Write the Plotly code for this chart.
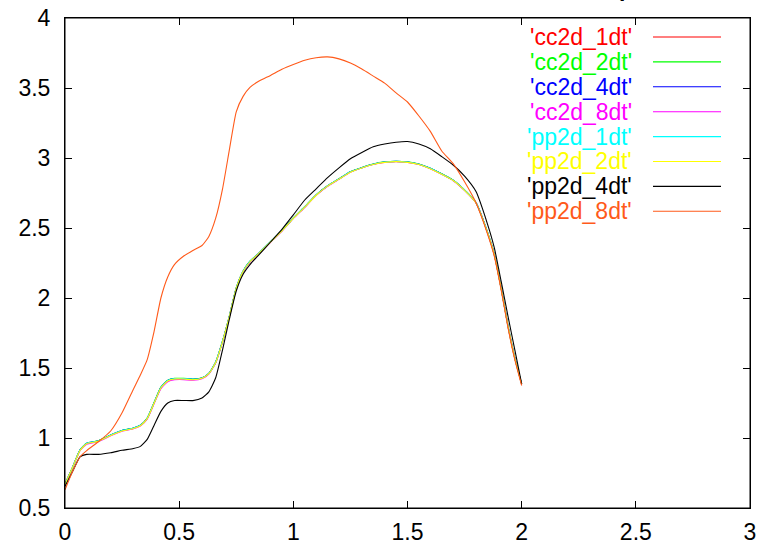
import plotly.graph_objects as go

# ---- data ----
x = [0, 0.033, 0.066, 0.095, 0.146, 0.2, 0.25, 0.3, 0.33, 0.36, 0.39, 0.42, 0.45, 0.48,
     0.52, 0.56, 0.6, 0.63, 0.66, 0.69, 0.72, 0.75, 0.78, 0.81, 0.85, 0.9, 0.95, 1.0,
     1.05, 1.1, 1.15, 1.2, 1.25, 1.3, 1.35, 1.4, 1.45, 1.5, 1.55, 1.6, 1.65, 1.7, 1.75,
     1.8, 1.85, 1.88, 1.91, 1.94, 1.97, 2.0]

cc2d_1dt = [0.67, 0.79, 0.914, 0.961, 0.978, 1.02, 1.052, 1.07, 1.09, 1.14, 1.25, 1.36, 1.41, 1.423,
            1.423, 1.418, 1.428, 1.46, 1.54, 1.69, 1.87, 2.07, 2.19, 2.26, 2.32, 2.40, 2.48, 2.57,
            2.65, 2.735, 2.80, 2.85, 2.90, 2.93, 2.955, 2.97, 2.975, 2.97, 2.955, 2.925, 2.885, 2.84, 2.77,
            2.68, 2.47, 2.31, 2.07, 1.80, 1.57, 1.385]
cc2d_2dt = [0.67, 0.79, 0.916, 0.963, 0.98, 1.022, 1.054, 1.072, 1.092, 1.143, 1.253, 1.363, 1.413, 1.426,
            1.426, 1.421, 1.43, 1.462, 1.543, 1.693, 1.873, 2.073, 2.193, 2.263, 2.322, 2.402, 2.482, 2.572,
            2.652, 2.737, 2.802, 2.852, 2.902, 2.932, 2.957, 2.972, 2.977, 2.972, 2.957, 2.927, 2.887, 2.842, 2.772,
            2.682, 2.472, 2.312, 2.072, 1.802, 1.572, 1.387]
cc2d_4dt = [0.67, 0.79, 0.915, 0.962, 0.979, 1.021, 1.053, 1.071, 1.091, 1.141, 1.251, 1.361, 1.411, 1.424,
            1.424, 1.419, 1.429, 1.461, 1.541, 1.691, 1.871, 2.071, 2.191, 2.261, 2.321, 2.401, 2.481, 2.571,
            2.651, 2.736, 2.801, 2.851, 2.901, 2.931, 2.956, 2.971, 2.976, 2.971, 2.956, 2.926, 2.886, 2.841, 2.771,
            2.681, 2.471, 2.311, 2.071, 1.801, 1.571, 1.386]
cc2d_8dt = [0.668, 0.788, 0.91, 0.956, 0.974, 1.016, 1.048, 1.066, 1.086, 1.135, 1.244, 1.352, 1.402, 1.416,
            1.417, 1.413, 1.424, 1.457, 1.537, 1.687, 1.867, 2.067, 2.187, 2.257, 2.318, 2.398, 2.478, 2.568,
            2.648, 2.733, 2.798, 2.848, 2.898, 2.928, 2.953, 2.968, 2.973, 2.968, 2.953, 2.923, 2.883, 2.838, 2.768,
            2.678, 2.468, 2.308, 2.068, 1.798, 1.568, 1.383]
pp2d_1dt = [0.67, 0.79, 0.915, 0.962, 0.979, 1.021, 1.053, 1.071, 1.091, 1.141, 1.251, 1.361, 1.411, 1.424,
            1.424, 1.419, 1.429, 1.461, 1.541, 1.691, 1.871, 2.071, 2.191, 2.261, 2.321, 2.401, 2.481, 2.571,
            2.651, 2.736, 2.801, 2.851, 2.901, 2.931, 2.956, 2.971, 2.976, 2.971, 2.956, 2.926, 2.886, 2.841, 2.771,
            2.681, 2.471, 2.311, 2.071, 1.801, 1.571, 1.386]
pp2d_2dt = [0.669, 0.789, 0.912, 0.959, 0.976, 1.018, 1.05, 1.068, 1.088, 1.138, 1.248, 1.357, 1.407, 1.421,
            1.421, 1.416, 1.426, 1.459, 1.539, 1.689, 1.869, 2.069, 2.189, 2.259, 2.319, 2.399, 2.479, 2.569,
            2.649, 2.734, 2.799, 2.849, 2.899, 2.929, 2.954, 2.969, 2.974, 2.969, 2.954, 2.924, 2.884, 2.839, 2.769,
            2.679, 2.469, 2.309, 2.069, 1.799, 1.569, 1.384]
pp2d_4dt = [0.653, 0.76, 0.866, 0.883, 0.883, 0.895, 0.912, 0.925, 0.94, 0.99, 1.09, 1.19, 1.25, 1.268,
            1.268, 1.267, 1.285, 1.33, 1.43, 1.63, 1.85, 2.05, 2.17, 2.239, 2.31, 2.40, 2.49, 2.594,
            2.70, 2.78, 2.86, 2.93, 2.995, 3.04, 3.08, 3.10, 3.113, 3.118, 3.10, 3.066, 3.01, 2.95, 2.87,
            2.76, 2.53, 2.36, 2.12, 1.87, 1.63, 1.387]
pp2d_8dt = [0.63, 0.76, 0.866, 0.91, 0.973, 1.05, 1.18, 1.35, 1.45, 1.56, 1.76, 2.0, 2.15, 2.24,
            2.30, 2.34, 2.375, 2.44, 2.57, 2.78, 3.06, 3.33, 3.44, 3.504, 3.55, 3.59, 3.634, 3.668,
            3.698, 3.716, 3.722, 3.708, 3.678, 3.635, 3.585, 3.535, 3.465, 3.40, 3.30, 3.19, 3.05, 2.96, 2.83,
            2.68, 2.46, 2.30, 2.06, 1.79, 1.56, 1.375]

series_names = ["'cc2d_1dt'", "'cc2d_2dt'", "'cc2d_4dt'", "'cc2d_8dt'",
                "'pp2d_1dt'", "'pp2d_2dt'", "'pp2d_4dt'", "'pp2d_8dt'"]
series_values = [cc2d_1dt, cc2d_2dt, cc2d_4dt, cc2d_8dt, pp2d_1dt, pp2d_2dt, pp2d_4dt, pp2d_8dt]
series_colors = ["#ff0000", "#00ff00", "#0000ff", "#ff00ff", "#00ffff", "#ffff00", "#000000", "#ff5a1a"]

x_ticks = [0, 0.5, 1, 1.5, 2, 2.5, 3]
x_tick_labels = ["0", "0.5", "1", "1.5", "2", "2.5", "3"]
y_ticks = [0.5, 1, 1.5, 2, 2.5, 3, 3.5, 4]
y_tick_labels = ["0.5", "1", "1.5", "2", "2.5", "3", "3.5", "4"]

# ---- figure ----
W, H = 759, 546
ML, MR, MT, MB = 65, 9, 18, 38
PW, PH = W - ML - MR, H - MT - MB

def px2x(px):
    return (px - ML) / PW

def py2y(py):
    return (H - MB - py) / PH

fig = go.Figure()
for name, vals, col in zip(series_names, series_values, series_colors):
    fig.add_trace(go.Scatter(x=x, y=vals, name=name, mode="lines",
                             line=dict(color=col, width=1.1, shape="spline", smoothing=0.5)))

font_family = "Liberation Sans, Arial, Helvetica, sans-serif"

annotations = []
shapes = [dict(type="rect", xref="paper", yref="paper", x0=0, x1=1, y0=0, y1=1,
               line=dict(color="black", width=1), layer="above")]
for i, (name, col) in enumerate(zip(series_names, series_colors)):
    yp = 37 + 24.9 * i
    annotations.append(dict(x=px2x(634), y=py2y(yp), xref="paper", yref="paper",
                            text=name, showarrow=False, xanchor="right", yanchor="middle",
                            font=dict(color=col, size=23, family=font_family)))
    shapes.append(dict(type="line", xref="paper", yref="paper",
                       x0=px2x(653), x1=px2x(721), y0=py2y(yp), y1=py2y(yp),
                       line=dict(color=col, width=1.1)))

# clipped title fragment at top edge
annotations.append(dict(x=px2x(617), y=py2y(3), xref="paper", yref="paper", text="<b>p</b>",
                        showarrow=False, xanchor="left", yanchor="bottom",
                        font=dict(color="black", size=23, family=font_family)))

axis_common = dict(showline=True, linecolor="black", linewidth=1, mirror="allticks",
                   ticks="inside", ticklen=7, tickcolor="black", tickwidth=1,
                   showgrid=False, zeroline=False,
                   tickfont=dict(size=23, color="black", family=font_family))

fig.update_layout(
    width=W, height=H,
    margin=dict(l=ML, r=MR, t=MT, b=MB, pad=0),
    paper_bgcolor="white", plot_bgcolor="white",
    showlegend=False,
    xaxis=dict(range=[0, 3], tickvals=x_ticks, ticktext=x_tick_labels,
               ticklabelstandoff=3, automargin=False, **axis_common),
    yaxis=dict(range=[0.5, 4], tickvals=y_ticks, ticktext=y_tick_labels,
               ticklabelstandoff=9, automargin=False, **axis_common),
    annotations=annotations,
    shapes=shapes,
)

fig.write_html("out.html", config={"displayModeBar": False},
               post_script="document.body.style.margin='0';document.body.style.overflow='hidden';")
